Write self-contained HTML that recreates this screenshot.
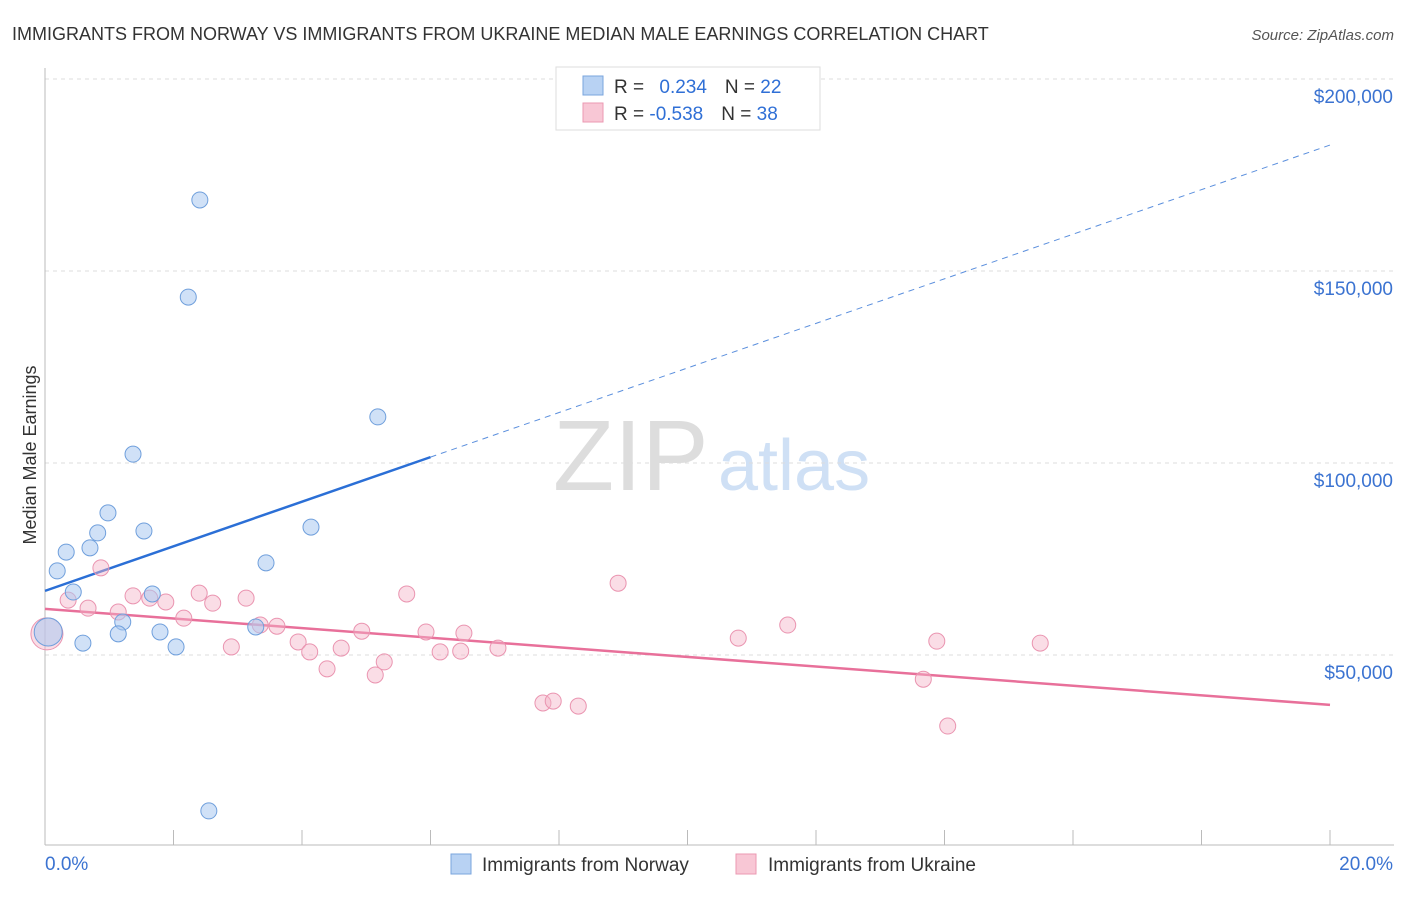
<!DOCTYPE html>
<html><head><meta charset="utf-8"><style>
body{margin:0;background:#fff;font-family:"Liberation Sans",sans-serif;}
svg text{font-family:"Liberation Sans",sans-serif;}
</style></head><body>
<svg id="chart" width="1406" height="892" viewBox="0 0 1406 892" xmlns="http://www.w3.org/2000/svg">
<text x="12" y="40" font-size="18" fill="#333">IMMIGRANTS FROM NORWAY VS IMMIGRANTS FROM UKRAINE MEDIAN MALE EARNINGS CORRELATION CHART</text>
<text x="1394" y="40" font-size="15" fill="#555" text-anchor="end" font-style="italic">Source: ZipAtlas.com</text>
<g>
<text x="553" y="490" font-size="100" fill="#ddd" font-family="Liberation Serif">ZIP</text>
<text x="718" y="490" font-size="72" fill="#cfe0f5">atlas</text>
</g>
<g id="grid"></g>
<g id="axes"></g>
<g id="lines"></g>
<g id="pts"></g>
<text x="36" y="455" font-size="18" fill="#333" text-anchor="middle" transform="rotate(-90 36 455)">Median Male Earnings</text>
<g>
<rect x="556" y="67" width="264" height="63" fill="#fff" stroke="#ddd"/>
<rect x="583" y="76" width="20" height="19" fill="#b8d2f3" stroke="#7aa5de"/>
<text x="614" y="93" font-size="19" fill="#333">R = <tspan fill="#2f6fd6" dx="10">0.234</tspan><tspan dx="18" fill="#333">N = </tspan><tspan fill="#2f6fd6">22</tspan></text>
<rect x="583" y="103" width="20" height="19" fill="#f8c7d5" stroke="#eb98b2"/>
<text x="614" y="120" font-size="19" fill="#333">R = <tspan fill="#2f6fd6">-0.538</tspan><tspan dx="18" fill="#333">N = </tspan><tspan fill="#2f6fd6">38</tspan></text>
</g>
<g>
<rect x="451" y="854" width="20" height="20" fill="#b8d2f3" stroke="#7aa5de"/>
<text x="482" y="871" font-size="19" fill="#333">Immigrants from Norway</text>
<rect x="736" y="854" width="20" height="20" fill="#f8c7d5" stroke="#eb98b2"/>
<text x="768" y="871" font-size="19" fill="#333">Immigrants from Ukraine</text>
</g>
</svg>
<script>
const yTicks=[50000,100000,150000,200000];
const yTickLabels=["$50,000","$100,000","$150,000","$200,000"];
const xTicks=[0,2,4,6,8,10,12,14,16,18,20];
const norwayX=[2.41,2.23,5.18,1.37,0.98,0.82,1.54,4.14,0.33,0.70,0.19,3.44,0.44,1.67,1.21,1.14,1.79,0.59,2.04,3.28,0.05,2.55];
const norwayY=[168500,143200,112000,102300,87000,81800,82300,83300,76800,77900,71900,74000,66400,65900,58600,55500,56000,53100,52100,57300,56000,9400];
const ukraineX=[0.03,0.36,0.67,0.87,1.14,1.37,1.63,1.88,2.16,2.40,2.61,2.90,3.13,3.35,3.61,3.94,4.12,4.39,4.61,4.93,5.14,5.28,5.63,5.93,6.15,6.47,6.52,7.05,7.75,7.91,8.30,8.92,10.79,11.56,13.67,13.88,14.05,15.49];
const ukraineY=[55500,64300,62200,72700,61200,65400,64800,63800,59600,66100,63500,52100,64800,57800,57500,53400,50800,46400,51800,56200,44800,48200,65900,56000,50800,51000,55700,51800,37500,38000,36700,68700,54400,57800,43700,53600,31500,53100];
const norwayTrend=[66700,182800]; // at 0% and 20%
const ukraineTrend=[62000,37000];
const norwaySolidEnd=6.0;
const NS="http://www.w3.org/2000/svg";
const X=v=>45+v*64.25, Y=v=>847-v/50000*192;
function mk(tag,attrs,parent){const e=document.createElementNS(NS,tag);for(const k in attrs)e.setAttribute(k,attrs[k]);parent.appendChild(e);return e;}
const grid=document.getElementById('grid'),axes=document.getElementById('axes'),lines=document.getElementById('lines'),pts=document.getElementById('pts');
let g=mk('line',{x1:45,x2:1394,y1:Y(200000),y2:Y(200000),stroke:'#ddd','stroke-dasharray':'4,4'},grid);


yTicks.forEach((t,i)=>{
 const l=mk('line',{x1:45,x2:1394,y1:Y(t),y2:Y(t),stroke:'#ddd','stroke-dasharray':'4,4'},grid);
 
 
 const tx=mk('text',{x:1393,y:Y(t)+24,'font-size':19,fill:'#3b73d1','text-anchor':'end'},axes);
 tx.textContent=yTickLabels[i];
 
 
});
let a=mk('line',{x1:45,x2:45,y1:68,y2:845,stroke:'#bbb'},axes);


a=mk('line',{x1:45,x2:1394,y1:845,y2:845,stroke:'#bbb'},axes);


xTicks.forEach(t=>{
 const l=mk('line',{x1:X(t),x2:X(t),y1:830,y2:845,stroke:'#bbb'},axes);
 
 
});
let xl=mk('text',{x:45,y:870,'font-size':19,fill:'#3b73d1'},axes);xl.textContent=xTicks[0].toFixed(1)+'%';


xl=mk('text',{x:1393,y:870,'font-size':19,fill:'#3b73d1','text-anchor':'end'},axes);xl.textContent=xTicks[xTicks.length-1].toFixed(1)+'%';


// trends
const nAt=x=>norwayTrend[0]+(norwayTrend[1]-norwayTrend[0])*x/20;
let tl=mk('line',{x1:X(0),y1:Y(nAt(0)),x2:X(norwaySolidEnd),y2:Y(nAt(norwaySolidEnd)),stroke:'#2b6fd6','stroke-width':2.5},lines);


tl=mk('line',{x1:X(norwaySolidEnd),y1:Y(nAt(norwaySolidEnd)),x2:X(20),y2:Y(nAt(20)),stroke:'#5b8fdd','stroke-width':1,'stroke-dasharray':'6,5'},lines);


tl=mk('line',{x1:X(0),y1:Y(ukraineTrend[0]),x2:X(20),y2:Y(ukraineTrend[1]),stroke:'#e8709a','stroke-width':2.5},lines);


// points
ukraineX.forEach((x,i)=>{
 const c=mk('circle',{cx:X(x),cy:Y(ukraineY[i]),r:i===0?16:8,fill:'rgba(245,180,200,0.45)',stroke:'#ea94b0','stroke-width':1},pts);
 
 
});
norwayX.forEach((x,i)=>{
 const c=mk('circle',{cx:X(x),cy:Y(norwayY[i]),r:i===20?14:8,fill:'rgba(170,200,240,0.55)',stroke:'#6f9fdc','stroke-width':1},pts);
 
 
});
</script>
</body></html>
